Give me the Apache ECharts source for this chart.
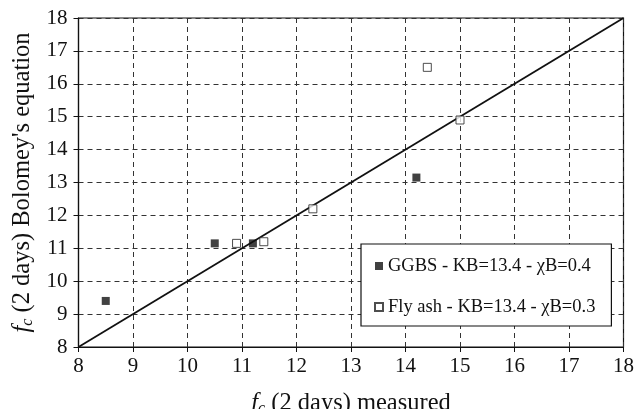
<!DOCTYPE html>
<html>
<head>
<meta charset="utf-8">
<script src="https://cdn.jsdelivr.net/npm/echarts@6/dist/echarts.min.js"></script>
<style>html,body{margin:0;padding:0;background:#fff}#c{width:635px;height:409px}</style>
</head>
<body>
<div id="c"></div>
<script>
var ggbsName = 'GGBS - KB=13.4 - \u03c7B=0.4';
var flyName = 'Fly ash - KB=13.4 - \u03c7B=0.3';
var ggbsMeasured = [8.5, 10.5, 11.2, 14.2];
var ggbsBolomey = [9.4, 11.15, 11.15, 13.15];
var flyMeasured = [10.9, 11.4, 12.3, 14.4, 15.0];
var flyBolomey = [11.15, 11.2, 12.2, 16.5, 14.9];
var equalityLine = [8, 18];
var axisMin = 8, axisMax = 18, axisStep = 1;

function pairs(xs, ys) { return xs.map(function (x, i) { return [x, ys[i]]; }); }

var FONT = 'Liberation Serif';
var rich = {
  f: { fontFamily: FONT, fontStyle: 'italic', fontSize: 24.5, color: '#111' },
  c: { fontFamily: FONT, fontStyle: 'italic', fontSize: 16, color: '#111', verticalAlign: 'bottom', padding: [10, 0, 0, 0] },
  t: { fontFamily: FONT, fontSize: 24.5, color: '#111' }
};
var gridLine = { show: true, lineStyle: { color: '#333', type: [5, 4], width: 1 } };

var chart = echarts.init(document.getElementById('c'), null, { renderer: 'canvas' });
chart.setOption({
  animation: false,
  backgroundColor: '#fff',
  grid: { left: 78.5, right: 11.5, top: 18, bottom: 62, containLabel: false, outerBoundsMode: 'none', show: true, borderColor: '#111', borderWidth: 1.2, backgroundColor: 'transparent' },
  legend: {
    data: [ggbsName, flyName],
    orient: 'vertical',
    left: 361, top: 244,
    backgroundColor: '#fff',
    borderColor: '#111', borderWidth: 1.2, borderRadius: 0,
    padding: [12, 16, 9, 13],
    itemGap: 21, itemWidth: 8, itemHeight: 8,
    textStyle: { fontFamily: FONT, fontSize: 18.5, color: '#111', lineHeight: 20 }
  },
  xAxis: {
    type: 'value', min: axisMin, max: axisMax, interval: axisStep,
    name: '{f|f}{c|c}{t| (2 days) measured}',
    nameLocation: 'middle', nameGap: 44,
    nameTextStyle: { rich: rich },
    axisLine: { lineStyle: { color: '#111', width: 1.2 } },
    axisTick: { show: true, length: 5, inside: false, lineStyle: { color: '#111' } },
    axisLabel: { fontFamily: FONT, fontSize: 21, color: '#111', margin: 9 },
    splitLine: gridLine
  },
  yAxis: {
    type: 'value', min: axisMin, max: axisMax, interval: axisStep,
    name: '{f|f}{c|c}{t| (2 days) Bolomey\'s equation}',
    nameLocation: 'middle', nameGap: 29, nameRotate: 90,
    nameTextStyle: { rich: rich },
    axisLine: { lineStyle: { color: '#111', width: 1.2 } },
    axisTick: { show: true, length: 5, inside: false, lineStyle: { color: '#111' } },
    axisLabel: { fontFamily: FONT, fontSize: 21, color: '#111', margin: 11 },
    splitLine: gridLine
  },
  series: [
    {
      name: 'equality', type: 'line', data: pairs(equalityLine, equalityLine),
      symbol: 'none', silent: true,
      lineStyle: { color: '#111', width: 1.8 }, z: 2
    },
    {
      name: ggbsName, type: 'scatter', data: pairs(ggbsMeasured, ggbsBolomey),
      symbol: 'rect', symbolSize: 8,
      itemStyle: { color: '#111' }, z: 3
    },
    {
      name: flyName, type: 'scatter', data: pairs(flyMeasured, flyBolomey),
      symbol: 'rect', symbolSize: 8,
      itemStyle: { color: '#fff', borderColor: '#222', borderWidth: 1 }, z: 3
    }
  ]
});
</script>
</body>
</html>
